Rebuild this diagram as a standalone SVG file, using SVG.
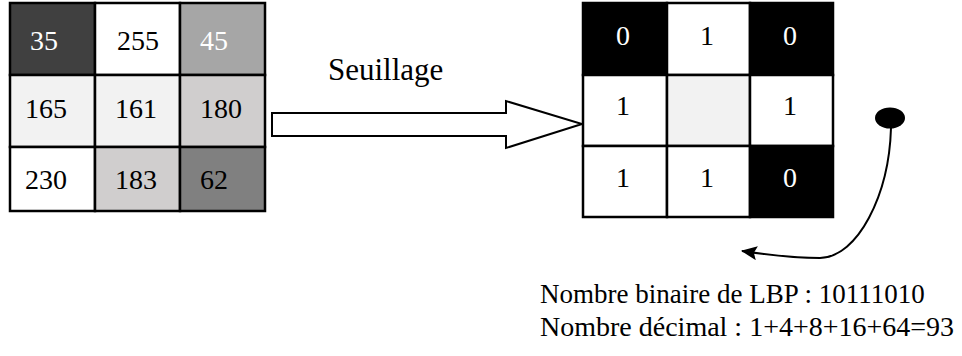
<svg xmlns="http://www.w3.org/2000/svg" width="962" height="356" viewBox="0 0 962 356" font-family="'Liberation Serif', 'DejaVu Serif', serif">
  <style>
    .cell { stroke: #000; stroke-width: 2.5; }
    .t { font-size: 28px; fill: #000; }
    .w { fill: #fff; }
    .lbl { fill: #000; }
    .conn { fill: none; stroke: #000; stroke-width: 2; }
  </style>
  <defs>
    <marker id="head" viewBox="0 0 16 14" refX="15" refY="7" markerWidth="16" markerHeight="14" markerUnits="userSpaceOnUse" orient="auto">
      <path d="M0,0 L16,7 L0,14 L3,7 Z" fill="#000"/>
    </marker>
  </defs>
  <rect width="962" height="356" fill="#fff"/>

  <!-- grey-level neighbourhood -->
  <g id="gray-grid">
    <rect class="cell" x="10" y="3" width="85" height="72" fill="#404040"/>
    <rect class="cell" x="95" y="3" width="85" height="72" fill="#ffffff"/>
    <rect class="cell" x="180" y="3" width="85" height="72" fill="#a6a6a6"/>
    <rect class="cell" x="10" y="75" width="85" height="72" fill="#f2f2f2"/>
    <rect class="cell" x="95" y="75" width="85" height="72" fill="#f2f2f2"/>
    <rect class="cell" x="180" y="75" width="85" height="72" fill="#d0cece"/>
    <rect class="cell" x="10" y="147" width="85" height="64" fill="#ffffff"/>
    <rect class="cell" x="95" y="147" width="85" height="64" fill="#d0cece"/>
    <rect class="cell" x="180" y="147" width="85" height="64" fill="#808080"/>
    <text class="t w" x="30" y="50">35</text>
    <text class="t" x="117" y="50">255</text>
    <text class="t w" x="200" y="50">45</text>
    <text class="t" x="25" y="118">165</text>
    <text class="t" x="115" y="118">161</text>
    <text class="t" x="200" y="118">180</text>
    <text class="t" x="25" y="189">230</text>
    <text class="t" x="115" y="189">183</text>
    <text class="t" x="200" y="189">62</text>
  </g>

  <!-- thresholding step -->
  <g id="threshold-arrow">
    <path d="M272,113 L506,113 L506,101 L582,124 L506,148 L506,136 L272,136 Z" fill="#fff" stroke="#000" stroke-width="2"/>
    <text class="lbl" x="328" y="80" font-size="31">Seuillage</text>
  </g>

  <!-- binary neighbourhood -->
  <g id="binary-grid">
    <rect class="cell" x="583" y="3" width="84" height="72" fill="#000"/>
    <rect class="cell" x="667" y="3" width="83" height="72" fill="#fff"/>
    <rect class="cell" x="750" y="3" width="83" height="72" fill="#000"/>
    <rect class="cell" x="583" y="75" width="84" height="71" fill="#fff"/>
    <rect class="cell" x="667" y="75" width="83" height="71" fill="#f2f2f2"/>
    <rect class="cell" x="750" y="75" width="83" height="71" fill="#fff"/>
    <rect class="cell" x="583" y="146" width="84" height="71" fill="#fff"/>
    <rect class="cell" x="667" y="146" width="83" height="71" fill="#fff"/>
    <rect class="cell" x="750" y="146" width="83" height="71" fill="#000"/>
    <text class="t w" x="616" y="45">0</text>
    <text class="t" x="700" y="45">1</text>
    <text class="t w" x="783" y="45">0</text>
    <text class="t" x="616" y="115">1</text>
    <text class="t" x="783" y="115">1</text>
    <text class="t" x="616" y="187">1</text>
    <text class="t" x="700" y="187">1</text>
    <text class="t w" x="783" y="187">0</text>
  </g>

  <!-- reading direction -->
  <g id="start-dot">
    <ellipse cx="890" cy="118" rx="15" ry="10.5" fill="#000"/>
  </g>
  <g id="connectors">
    <path class="conn" d="M891,128 C889,195 858,257 820,258 C800,258 775,256 742,251" marker-end="url(#head)"/>
  </g>

  <!-- result -->
  <g id="result">
    <text class="lbl" x="540" y="303" font-size="27">Nombre binaire de LBP : 10111010</text>
    <text class="lbl" x="540" y="336" font-size="28">Nombre décimal : 1+4+8+16+64=93</text>
  </g>
</svg>
